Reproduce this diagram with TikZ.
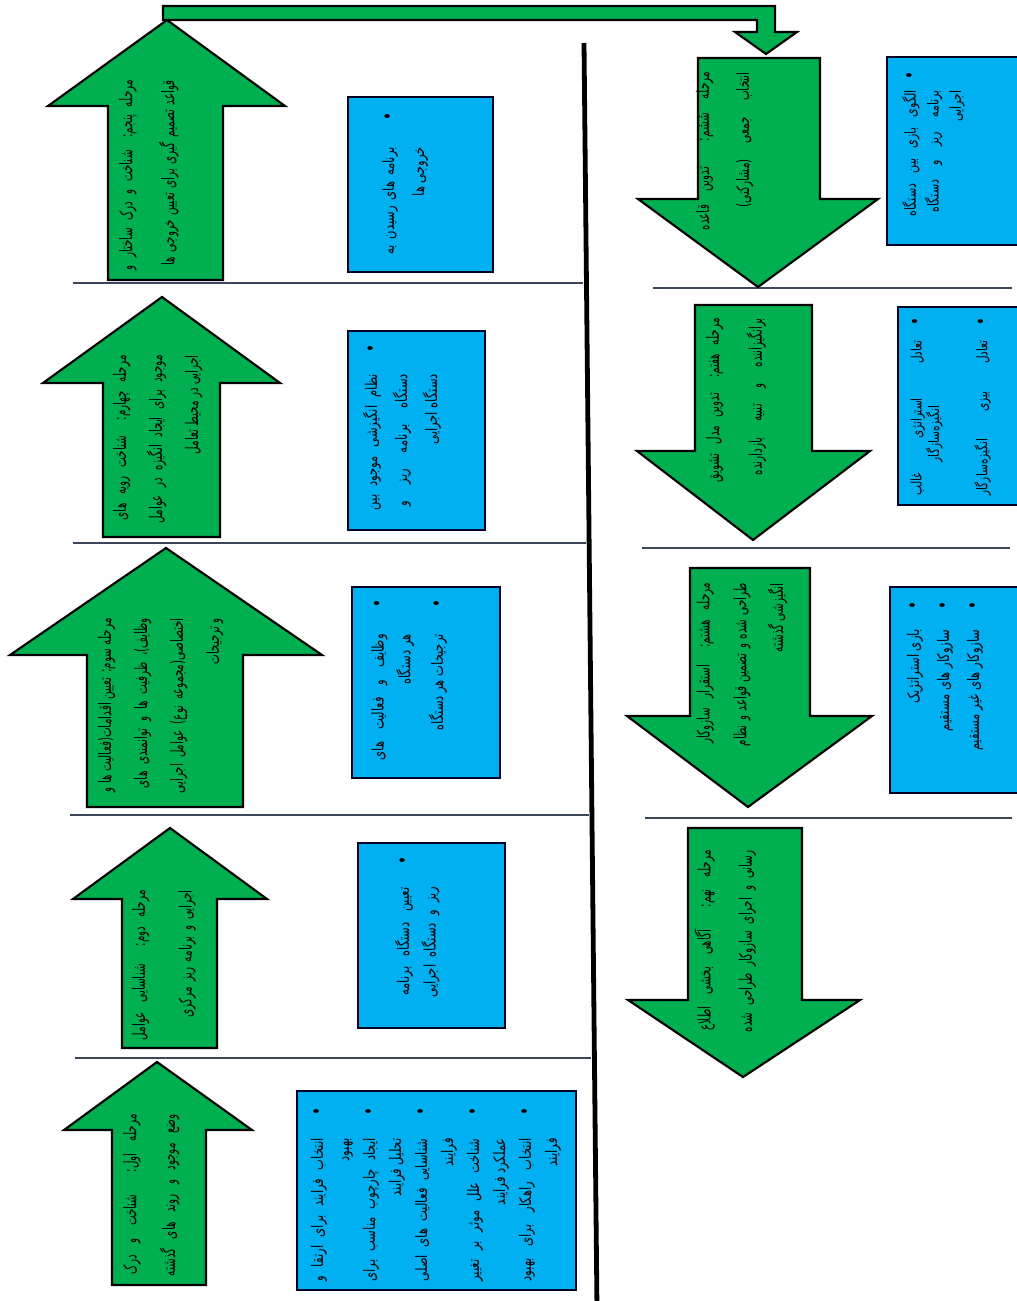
\documentclass[tikz,border=0pt]{standalone}
\usepackage{fontspec}
\usetikzlibrary{fit}
\newfontfamily\fastage[Script=Arabic,FakeStretch=0.6]{DejaVu Sans}
\newfontfamily\fanote[Script=Arabic,FakeStretch=0.72]{DejaVu Sans}
\TeXXeTstate=1
\definecolor{stagegreen}{RGB}{0,176,80}
\definecolor{noteblue}{RGB}{0,176,240}
\definecolor{rulegray}{RGB}{60,70,90}
\newdimen\pxu \pxu=0.75pt
% a line of text justified to #1 px
\newcommand\jl[2]{\hbox to #1\pxu{#2}}
\newcommand\dotmark{{\fontsize{14}{14}\selectfont\textbullet}}
% stage caption: #1 line pitch, #2 rows
\newcommand\stagetext[2]{{\fastage\fontsize{13}{#1}\selectfont\begin{tabular}{@{}r@{}}#2\end{tabular}}}
% bullet list: #1 font size, #2 line pitch, #3 gap after bullet, #4 rows
\newcommand\notetext[4]{{\fanote\fontsize{#1}{#2}\selectfont\begin{tabular}{@{}r@{\hspace{#3}}c@{}}#4\end{tabular}}}
% block arrow: tip x, tip y, head left, head right, head base y, shaft left, shaft right, shaft end y
\newcommand\blockarrow[8]{\draw[stagearrow] (#1,#2) -- (#4,#5) -- (#7,#5) -- (#7,#8) -- (#6,#8) -- (#6,#5) -- (#3,#5) -- cycle;}
\begin{document}
\begin{tikzpicture}[x=0.75pt,y=-0.75pt,
  stagearrow/.style={fill=stagegreen,draw=black,line width=1.6pt,line join=miter},
  notebox/.style={fill=noteblue,draw=black!85!blue,line width=2.2pt,inner sep=0pt},
  sep/.style={draw=rulegray,line width=1.1pt},
  divider/.style={draw=black,line width=3.6pt},
  caption/.style={rotate=90,inner sep=0pt,anchor=east}]
\fill[white] (0,0) rectangle (1016,1301);
\useasboundingbox (0,0) rectangle (1016,1301);

% row separators
\draw[sep] (73,283) -- (583,283);
\draw[sep] (73,543) -- (586,543);
\draw[sep] (70,815) -- (589,815);
\draw[sep] (75,1058) -- (591,1058);
\draw[sep] (653,288) -- (1012,288);
\draw[sep] (642,548) -- (1010,548);
\draw[sep] (645,818) -- (1012,818);

% central divider
\coordinate (divtop) at (584,43);
\coordinate (divbot) at (597,1310);
\draw[divider] (divtop) -- (divbot);

% left column: stages one to five, pointing up
\blockarrow{157}{1062}{64}{252}{1130}{112}{206}{1285}
\blockarrow{170}{828}{73}{267}{899}{122}{217}{1048}
\blockarrow{166}{548}{10}{322}{655}{87}{243}{807}
\blockarrow{162}{297}{43}{280}{383}{103}{220}{537}
\blockarrow{167}{20}{48}{285}{106}{108}{223}{280}

% right column: stages six to nine, pointing down
\blockarrow{758}{287}{638}{878}{199}{698}{820}{58}
\blockarrow{753}{540}{637}{870}{451}{695}{812}{305}
\blockarrow{748}{807}{627}{872}{716}{690}{810}{568}
\blockarrow{743}{1077}{628}{860}{1000}{688}{802}{828}

% bent arrow from stage five over to stage six
\draw[stagearrow] (163,6) -- (775,6) -- (775,32) -- (797,32) -- (766,54) -- (735,32) -- (757,32) -- (757,20) -- (163,20) -- cycle;

% note boxes
\node[notebox,fit={(297,1091) (576,1290)}] (b1) {};
\node[notebox,fit={(358,843) (505,1028)}] (b2) {};
\node[notebox,fit={(352,587) (500,778)}] (b3) {};
\node[notebox,fit={(348,331) (485,530)}] (b4) {};
\node[notebox,fit={(348,97) (493,272)}] (b5) {};
\node[notebox,fit={(887,57) (1030,245)}] (b6) {};
\node[notebox,fit={(898,307) (1030,505)}] (b7) {};
\node[notebox,fit={(890,587) (1030,793)}] (b8) {};

% stage captions
\node[caption] (s1) at (148,1114) {\stagetext{29pt}{%
  \jl{160}{\beginR مرحله اول: شناخت و درک\endR}\\
  \jl{162}{\beginR وضع موجود و روند های گذشته\endR}}};
\node[caption] (s2) at (159,890) {\stagetext{35pt}{%
  \jl{150}{\beginR مرحله دوم: شناسایی عوامل\endR}\\
  \jl{127}{\beginR اجرایی و برنامه ریز مرکزی\endR}}};
\node[caption] (s3) at (158,618) {\stagetext{27pt}{%
  \jl{174}{\beginR مرحله سوم: تعیین اقدامات(فعالیت ها و\endR}\\
  \jl{170}{\beginR وظایف)، ظرفیت ها و توانمندی های\endR}\\
  \jl{175}{\beginR اختصاصی(مجموعه نوع) عوامل اجرایی\endR}\\
  \beginR و ترجیحات\endR}};
\node[caption] (s4) at (155,355) {\stagetext{27pt}{%
  \jl{165}{\beginR مرحله چهارم: شناخت رویه های\endR}\\
  \jl{168}{\beginR موجود برای ایجاد انگیزه در عوامل\endR}\\
  \beginR اجرایی در محیط تعامل\endR}};
\node[caption] (s5) at (145,80) {\stagetext{31.5pt}{%
  \jl{190}{\beginR مرحله پنجم: شناخت و درک ساختار و\endR}\\
  \jl{185}{\beginR قواعد تصمیم گیری برای تعیین خروجی ها\endR}}};
\node[caption] (s6) at (721,72) {\stagetext{30pt}{%
  \jl{158}{\beginR مرحله ششم: تدوین قاعده\endR}\\
  \jl{135}{\beginR انتخاب جمعی (مشارکتی)\endR}}};
\node[caption] (s7) at (732,318) {\stagetext{32pt}{%
  \jl{164}{\beginR مرحله هفتم: تدوین مدل تشویق\endR}\\
  \jl{157}{\beginR برانگیزاننده و تنبیه بازدارنده\endR}}};
\node[caption] (s8) at (739,583) {\stagetext{27.5pt}{%
  \jl{160}{\beginR مرحله هشتم: استقرار سازوکار\endR}\\
  \jl{163}{\beginR طراحی شده و تضمین قواعد و نظام\endR}\\
  \beginR انگیزشی گذشته\endR}};
\node[caption] (s9) at (723,850) {\stagetext{31pt}{%
  \jl{180}{\beginR مرحله نهم: آگاهی بخشی اطلاع\endR}\\
  \jl{182}{\beginR رسانی و اجرای سازوکار طراحی شده\endR}}};

% note texts
\node[caption] (t1) at (435,1107.5) {\notetext{12}{19.5pt}{17pt}{%
  \jl{143}{\beginR انتخاب فرایند برای ارتقا و\endR} & \dotmark\\ \beginR بهبود\endR & \\
  \jl{143}{\beginR ایجاد چارچوب مناسب برای\endR} & \dotmark\\ \beginR تحلیل فرایند\endR & \\
  \jl{143}{\beginR شناسایی فعالیت های اصلی\endR} & \dotmark\\ \beginR فرایند\endR & \\
  \jl{143}{\beginR شناخت علل موثر بر تغییر\endR} & \dotmark\\ \beginR عملکرد فرایند\endR & \\
  \jl{143}{\beginR انتخاب راهکار برای بهبود\endR} & \dotmark\\ \beginR فرایند\endR & }};
\node[caption] (t2) at (417,856.5) {\notetext{12}{20pt}{17pt}{%
  \jl{108}{\beginR تعیین دستگاه برنامه\endR} & \dotmark\\
  \jl{110}{\beginR ریز و دستگاه اجرایی\endR} & }};
\node[caption] (t3) at (408,599.5) {\notetext{12}{20pt}{20pt}{%
  \jl{126}{\beginR وظایف و فعالیت های\endR} & \dotmark\\ \beginR هر دستگاه\endR & \\[4.5pt]
  \beginR ترجیحات هر دستگاه\endR & \dotmark}};
\node[caption] (t4) at (401,344.5) {\notetext{12}{22.5pt}{16pt}{%
  \jl{136}{\beginR نظام انگیزشی موجود بین\endR} & \dotmark\\
  \jl{132}{\beginR دستگاه برنامه ریز و\endR} & \\
  \beginR دستگاه اجرایی\endR & }};
\node[caption] (t5) at (403,112.5) {\notetext{12}{22.5pt}{20pt}{%
  \jl{107}{\beginR برنامه های رسیدن به\endR} & \dotmark\\ \beginR خروجی ها\endR & }};
\node[caption] (t6) at (934,71.5) {\notetext{11.5}{17pt}{8pt}{%
  \jl{126}{\beginR الگوی بازی بین دستگاه\endR} & \dotmark\\
  \jl{122}{\beginR برنامه ریز و دستگاه\endR} & \\
  \beginR اجرایی\endR & }};
\node[caption] (t7) at (951,317.5) {\notetext{11}{11pt}{11pt}{%
  \jl{155}{\beginR تعادل استراتژی غالب\endR} & \dotmark\\
  \beginR انگیزه‌سازگار\endR\hspace{65\pxu} & \\[23pt]
  \jl{155}{\beginR تعادل بیزی انگیزه‌سازگار\endR} & \dotmark}};
\node[caption] (t8) at (943,601.5) {\notetext{12}{22.5pt}{15pt}{%
  \beginR بازی استراتژیک\endR & \dotmark\\
  \beginR سازوکار های مستقیم\endR & \dotmark\\
  \beginR سازوکار های غیر مستقیم\endR & \dotmark}};
\end{tikzpicture}
\end{document}
